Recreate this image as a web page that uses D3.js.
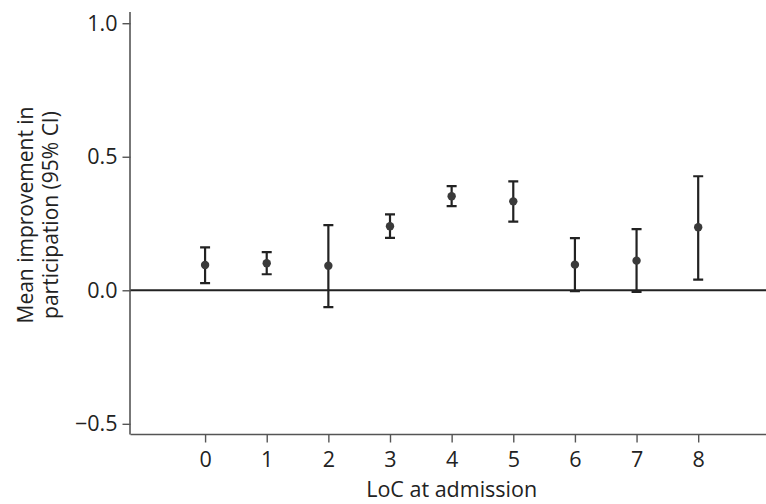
<!DOCTYPE html>
<html>
<head>
<meta charset="utf-8">
<script src="https://cdn.jsdelivr.net/npm/d3@7"></script>
<style>
  html, body { margin: 0; padding: 0; background: #fff; }
  svg { display: block; }
  text { font-family: "Open Sans", "Noto Sans", sans-serif; fill: #222; }
</style>
</head>
<body>
<svg id="chart" width="766" height="504"></svg>
<script>
// Level of consciousness (LoC) at admission
const categories = [0, 1, 2, 3, 4, 5, 6, 7, 8];
// Mean improvement in participation and its 95% confidence interval
const means = [0.095, 0.101, 0.092, 0.240, 0.352, 0.333, 0.096, 0.111, 0.236];
const lower = [0.027, 0.060, -0.063, 0.196, 0.315, 0.257, -0.003, -0.006, 0.040];
const upper = [0.161, 0.143, 0.244, 0.284, 0.390, 0.408, 0.195, 0.229, 0.427];
const yTicks = [-0.5, 0.0, 0.5, 1.0];

const data = categories.map((c, i) => ({ c, m: means[i], lo: lower[i], hi: upper[i] }));

const svg = d3.select("#chart");
const plotLeft = 130.5, plotBottom = 434.5, plotTop = 12, plotRight = 766;

const x = d3.scaleLinear().domain([-1.21, 9.1]).range([plotLeft, plotRight]);
const y = d3.scaleLinear().domain([-0.54, 1.042]).range([plotBottom, plotTop]);

// y axis
const yAxis = svg.append("g")
  .attr("transform", `translate(${plotLeft},0)`)
  .call(d3.axisLeft(y).tickValues(yTicks).tickSize(8).tickPadding(5)
    .tickFormat(d => d3.format(".1f")(d).replace("-", "\u2212")));
// x axis
const xAxis = svg.append("g")
  .attr("transform", `translate(0,${plotBottom})`)
  .call(d3.axisBottom(x).tickValues(categories).tickSize(8).tickPadding(9)
    .tickFormat(d3.format("d")));

[yAxis, xAxis].forEach(g => {
  g.select(".domain").attr("stroke", "#555").attr("stroke-width", 1.6);
  g.selectAll(".tick line").attr("stroke", "#555").attr("stroke-width", 1.4);
  g.selectAll(".tick text").attr("fill", "#222").style("font-size", "21.5px")
    .style("font-family", "'Open Sans', 'Noto Sans', sans-serif");
});
yAxis.select(".domain").attr("d", `M-0.5,${plotTop}V${plotBottom}`);
xAxis.select(".domain").attr("d", `M${plotLeft},0H${plotRight}`);

// reference line at zero
svg.append("line")
  .attr("x1", plotLeft).attr("x2", plotRight)
  .attr("y1", y(0)).attr("y2", y(0))
  .attr("stroke", "#222").attr("stroke-width", 2);

// error bars
const capW = 5;
const eb = svg.append("g").attr("stroke", "#222").attr("stroke-width", 2.2).attr("fill", "none");
eb.selectAll("path").data(data).join("path")
  .attr("d", d => {
    const cx = x(d.c), y1 = y(d.hi), y2 = y(d.lo);
    return `M${cx - capW},${y1}H${cx + capW}M${cx},${y1}V${y2}M${cx - capW},${y2}H${cx + capW}`;
  });

// mean points
svg.append("g").selectAll("circle").data(data).join("circle")
  .attr("cx", d => x(d.c)).attr("cy", d => y(d.m)).attr("r", 4.2)
  .attr("fill", "#3a3a3a");

// axis titles
svg.append("text")
  .attr("x", x(4)).attr("y", 497)
  .attr("text-anchor", "middle").style("font-size", "21.5px")
  .text("LoC at admission");

const yt = svg.append("text")
  .attr("transform", "translate(33,215) rotate(-90)")
  .attr("text-anchor", "middle").style("font-size", "21px");
yt.append("tspan").attr("x", 0).attr("y", 0).text("Mean improvement in");
yt.append("tspan").attr("x", 0).attr("y", 25).text("participation (95% CI)");
</script>
</body>
</html>
